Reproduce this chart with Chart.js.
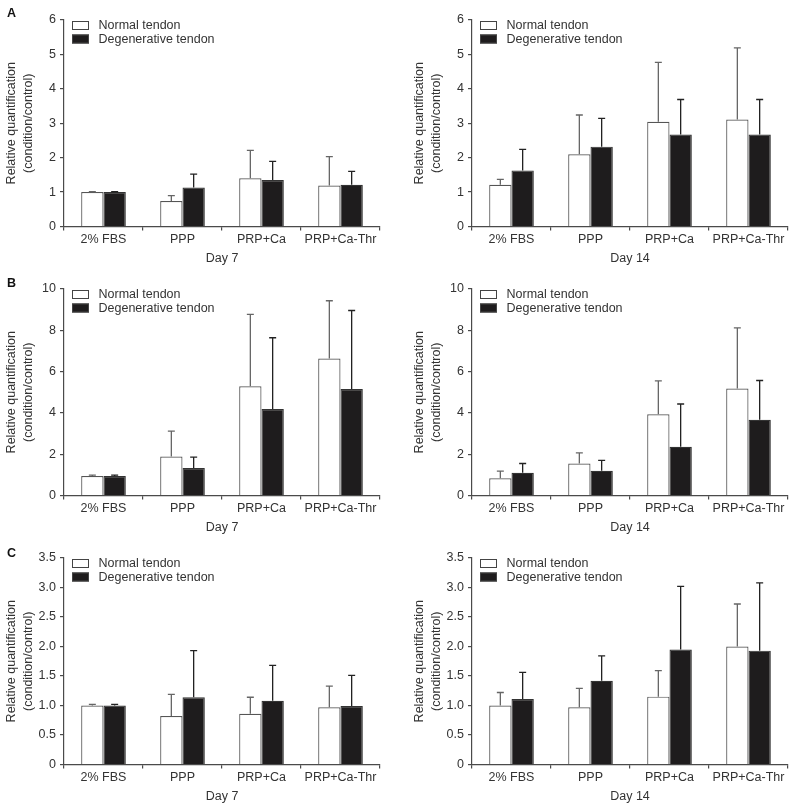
<!DOCTYPE html>
<html>
<head>
<meta charset="utf-8">
<script src="https://cdn.jsdelivr.net/npm/chart.js@4.4.0/dist/chart.umd.min.js"></script>
<style>
    html, body { margin: 0; padding: 0; background: #fff; }
    #page { position: relative; width: 795px; height: 809px; overflow: hidden; }
    canvas { position: absolute; }
</style>
</head>
<body>
<div id="page">
    <canvas id="a7" width="387" height="270" style="left:0;top:0"></canvas>
    <canvas id="a14" width="387" height="270" style="left:408px;top:0"></canvas>
    <canvas id="b7" width="387" height="270" style="left:0;top:269px"></canvas>
    <canvas id="b14" width="387" height="270" style="left:408px;top:269px"></canvas>
    <canvas id="c7" width="387" height="270" style="left:0;top:538px"></canvas>
    <canvas id="c14" width="387" height="270" style="left:408px;top:538px"></canvas>
</div>
<script>
const categories = ['2% FBS', 'PPP', 'PRP+Ca', 'PRP+Ca-Thr'];
const seriesNames = ['Normal tendon', 'Degenerative tendon'];

// panel A
const aDay7Normal = [1.0, 0.74, 1.40, 1.19];
const aDay7NormalErr = [1.01, 0.90, 2.21, 2.03];
const aDay7Degen = [1.0, 1.13, 1.35, 1.21];
const aDay7DegenErr = [1.01, 1.52, 1.89, 1.60];
const aDay14Normal = [1.21, 2.10, 3.04, 3.11];
const aDay14NormalErr = [1.37, 3.24, 4.77, 5.19];
const aDay14Degen = [1.63, 2.32, 2.67, 2.67];
const aDay14DegenErr = [2.24, 3.14, 3.69, 3.69];
const aTicks = [0, 1, 2, 3, 4, 5, 6];
const aTickLabels = ['0', '1', '2', '3', '4', '5', '6'];

// panel B
const bDay7Normal = [0.94, 1.89, 5.29, 6.63];
const bDay7NormalErr = [0.99, 3.12, 8.77, 9.43];
const bDay7Degen = [0.94, 1.33, 4.19, 5.16];
const bDay7DegenErr = [0.99, 1.86, 7.64, 8.96];
const bDay14Normal = [0.83, 1.55, 3.93, 5.18];
const bDay14NormalErr = [1.18, 2.06, 5.55, 8.12];
const bDay14Degen = [1.10, 1.20, 2.36, 3.67];
const bDay14DegenErr = [1.55, 1.70, 4.43, 5.57];
const bTicks = [0, 2, 4, 6, 8, 10];
const bTickLabels = ['0', '2', '4', '6', '8', '10'];

// panel C
const cDay7Normal = [1.0, 0.82, 0.86, 0.97];
const cDay7NormalErr = [1.02, 1.19, 1.14, 1.33];
const cDay7Degen = [1.0, 1.14, 1.08, 0.99];
const cDay7DegenErr = [1.02, 1.93, 1.68, 1.51];
const cDay14Normal = [1.0, 0.97, 1.15, 2.0];
const cDay14NormalErr = [1.22, 1.29, 1.59, 2.72];
const cDay14Degen = [1.11, 1.42, 1.95, 1.93];
const cDay14DegenErr = [1.56, 1.84, 3.02, 3.08];
const cTicks = [0, 0.5, 1.0, 1.5, 2.0, 2.5, 3.0, 3.5];
const cTickLabels = ['0', '0.5', '1.0', '1.5', '2.0', '2.5', '3.0', '3.5'];

const axisColor = '#4a4a4a';
const textColor = '#333';
const fontFamily = '"Liberation Sans", Arial, sans-serif';

Chart.defaults.font.family = fontFamily;
Chart.defaults.font.size = 12.5;
Chart.defaults.color = textColor;

// upward-only error bars with a small cap
const errorBars = {
    id: 'errorBars',
    afterDatasetsDraw(chart) {
        const ctx = chart.ctx;
        const yScale = chart.scales.y;
        chart.data.datasets.forEach((ds, i) => {
            const meta = chart.getDatasetMeta(i);
            ctx.save();
            ctx.strokeStyle = ds.errorColor;
            ctx.lineWidth = 1.3;
            meta.data.forEach((bar, j) => {
                const top = yScale.getPixelForValue(ds.errorTop[j]);
                ctx.beginPath();
                ctx.moveTo(bar.x, bar.y);
                ctx.lineTo(bar.x, top);
                ctx.moveTo(bar.x - 3.5, top);
                ctx.lineTo(bar.x + 3.5, top);
                ctx.stroke();
            });
            ctx.restore();
        });
    },
};

// legend drawn inside the plot, top left
const insideLegend = {
    id: 'insideLegend',
    afterDraw(chart, args, opts) {
        const { ctx, chartArea } = chart;
        ctx.save();
        ctx.font = `12.5px ${fontFamily}`;
        ctx.textBaseline = 'middle';
        ctx.textAlign = 'left';
        chart.data.datasets.forEach((ds, i) => {
            const x = chartArea.left + 8;
            const y = chartArea.top + 1 + i * 13.5;
            ctx.fillStyle = ds.backgroundColor;
            ctx.fillRect(x, y, 17, 9);
            ctx.strokeStyle = '#444';
            ctx.lineWidth = 1;
            ctx.strokeRect(x + 0.5, y + 0.5, 16, 8);
            ctx.fillStyle = textColor;
            ctx.fillText(ds.label, x + 26.5, y + 4.8);
        });
        if (opts.letter) {
            ctx.font = `bold 12.5px ${fontFamily}`;
            ctx.textBaseline = 'alphabetic';
            ctx.fillStyle = '#111';
            ctx.fillText(opts.letter, 7, opts.letterY);
        }
        ctx.restore();
    },
};

function makeChart(id, day, normal, normalErr, degen, degenErr, ticks, tickLabels, letter, letterY) {
    const ctx = document.getElementById(id).getContext('2d');
    return new Chart(ctx, {
        type: 'bar',
        data: {
            labels: categories,
            datasets: [
                {
                    label: seriesNames[0],
                    data: normal,
                    errorTop: normalErr,
                    errorColor: '#666',
                    backgroundColor: '#ffffff',
                    borderColor: '#555',
                    borderWidth: 1.2,
                    categoryPercentage: 0.565,
                    barPercentage: 1,
                },
                {
                    label: seriesNames[1],
                    data: degen,
                    errorTop: degenErr,
                    errorColor: '#222',
                    backgroundColor: '#1e1c1d',
                    borderColor: '#333',
                    borderWidth: 1.2,
                    categoryPercentage: 0.565,
                    barPercentage: 1,
                },
            ],
        },
        options: {
            responsive: false,
            animation: false,
            layout: { padding: { top: 20, right: 7, left: 0, bottom: 0 } },
            plugins: {
                legend: { display: false },
                tooltip: { enabled: false },
                insideLegend: { letter, letterY },
            },
            scales: {
                x: {
                    border: { color: axisColor, width: 1.2 },
                    grid: { drawOnChartArea: false, tickLength: 4, color: axisColor, lineWidth: 1.2, offset: true },
                    ticks: { color: textColor, padding: 2, maxRotation: 0, autoSkip: false },
                    title: {
                        display: true,
                        text: day,
                        color: textColor,
                        font: { size: 12.5, lineHeight: 1.33 },
                        padding: { top: 0, bottom: 3.4 },
                    },
                    afterFit: (s) => { s.height = 43.5; },
                },
                y: {
                    min: ticks[0],
                    max: ticks[ticks.length - 1],
                    afterBuildTicks: (s) => { s.ticks = ticks.map((v) => ({ value: v })); },
                    border: { color: axisColor, width: 1.2 },
                    grid: { drawOnChartArea: false, tickLength: 4, color: axisColor, lineWidth: 1.2 },
                    ticks: { color: textColor, padding: 4, callback: (v, i) => tickLabels[i] },
                    title: {
                        display: true,
                        text: ['Relative quantification', '(condition/control)'],
                        color: textColor,
                        font: { size: 12.5, lineHeight: 1.33 },
                        padding: { top: 3.4, bottom: 0 },
                    },
                    afterFit: (s) => { s.width = 64; },
                },
            },
        },
        plugins: [errorBars, insideLegend],
    });
}

makeChart('a7', 'Day 7', aDay7Normal, aDay7NormalErr, aDay7Degen, aDay7DegenErr, aTicks, aTickLabels, 'A', 16.7);
makeChart('a14', 'Day 14', aDay14Normal, aDay14NormalErr, aDay14Degen, aDay14DegenErr, aTicks, aTickLabels);
makeChart('b7', 'Day 7', bDay7Normal, bDay7NormalErr, bDay7Degen, bDay7DegenErr, bTicks, bTickLabels, 'B', 17.7);
makeChart('b14', 'Day 14', bDay14Normal, bDay14NormalErr, bDay14Degen, bDay14DegenErr, bTicks, bTickLabels);
makeChart('c7', 'Day 7', cDay7Normal, cDay7NormalErr, cDay7Degen, cDay7DegenErr, cTicks, cTickLabels, 'C', 19.3);
makeChart('c14', 'Day 14', cDay14Normal, cDay14NormalErr, cDay14Degen, cDay14DegenErr, cTicks, cTickLabels);
</script>
</body>
</html>
